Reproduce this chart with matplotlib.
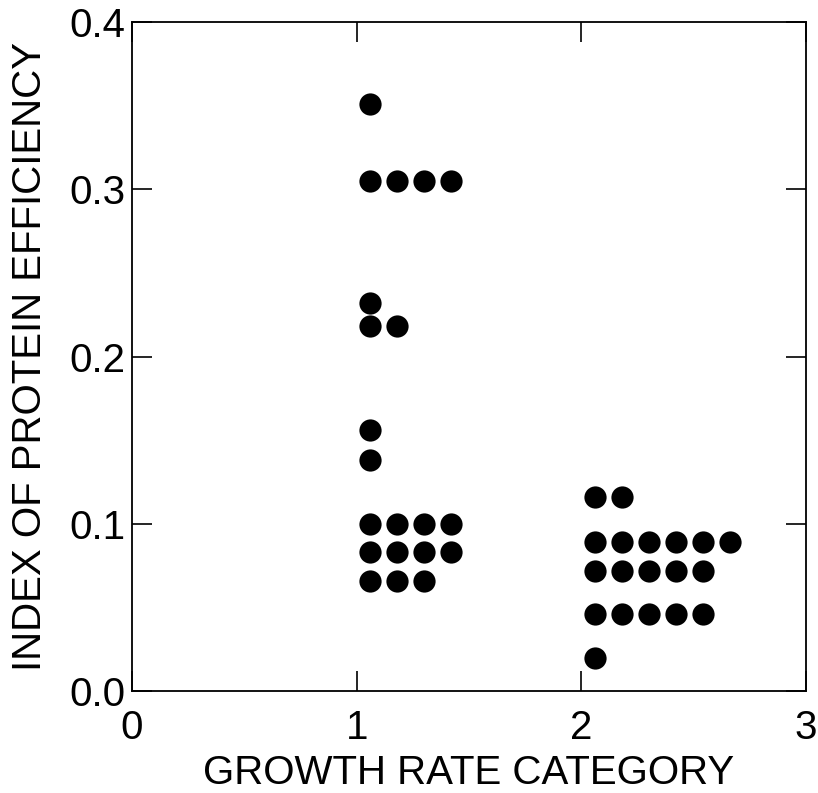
import matplotlib
matplotlib.use("Agg")
import matplotlib.pyplot as plt

# data: (x position, y value)
cat1_x = [1.06, 1.06, 1.18, 1.30, 1.42, 1.06, 1.06, 1.18, 1.06, 1.06,
          1.06, 1.18, 1.30, 1.42, 1.06, 1.18, 1.30, 1.42, 1.06, 1.18, 1.30]
cat1_y = [0.351, 0.305, 0.305, 0.305, 0.305, 0.232, 0.218, 0.218, 0.156, 0.138,
          0.100, 0.100, 0.100, 0.100, 0.083, 0.083, 0.083, 0.083, 0.066, 0.066, 0.066]
cat2_x = [2.06, 2.18,
          2.06, 2.18, 2.30, 2.42, 2.54, 2.66,
          2.06, 2.18, 2.30, 2.42, 2.54,
          2.06, 2.18, 2.30, 2.42, 2.54,
          2.06]
cat2_y = [0.116, 0.116,
          0.089, 0.089, 0.089, 0.089, 0.089, 0.089,
          0.072, 0.072, 0.072, 0.072, 0.072,
          0.046, 0.046, 0.046, 0.046, 0.046,
          0.020]
x_ticks = [0, 1, 2, 3]
y_ticks = [0.0, 0.1, 0.2, 0.3, 0.4]
y_tick_labels = ["0.0", "0.1", "0.2", "0.3", "0.4"]

plt.rcParams['font.family'] = ['Liberation Sans', 'DejaVu Sans']
fig = plt.figure(figsize=(8.18, 7.93), dpi=100)
ax = fig.add_axes([132/818, 1 - 691/793, (806-132)/818, (691-22)/793])

ax.plot(cat1_x, cat1_y, 'o', color='black', markersize=16, markeredgewidth=0)
ax.plot(cat2_x, cat2_y, 'o', color='black', markersize=16, markeredgewidth=0)

ax.set_xlim(0, 3)
ax.set_ylim(0, 0.4)
ax.set_xticks(x_ticks)
ax.set_yticks(y_ticks)
ax.set_yticklabels(y_tick_labels)
ax.tick_params(direction='in', length=14.5, width=1.2, top=True, right=True,
               labelsize=29)
ax.tick_params(axis='x', pad=13)
ax.tick_params(axis='y', pad=5)
for s in ax.spines.values():
    s.set_linewidth(1.3)
ax.set_xlabel("GROWTH RATE CATEGORY", fontsize=29, labelpad=5)
ax.set_ylabel("INDEX OF PROTEIN EFFICIENCY", fontsize=29, labelpad=14)

fig.savefig("out.png", dpi=100)
